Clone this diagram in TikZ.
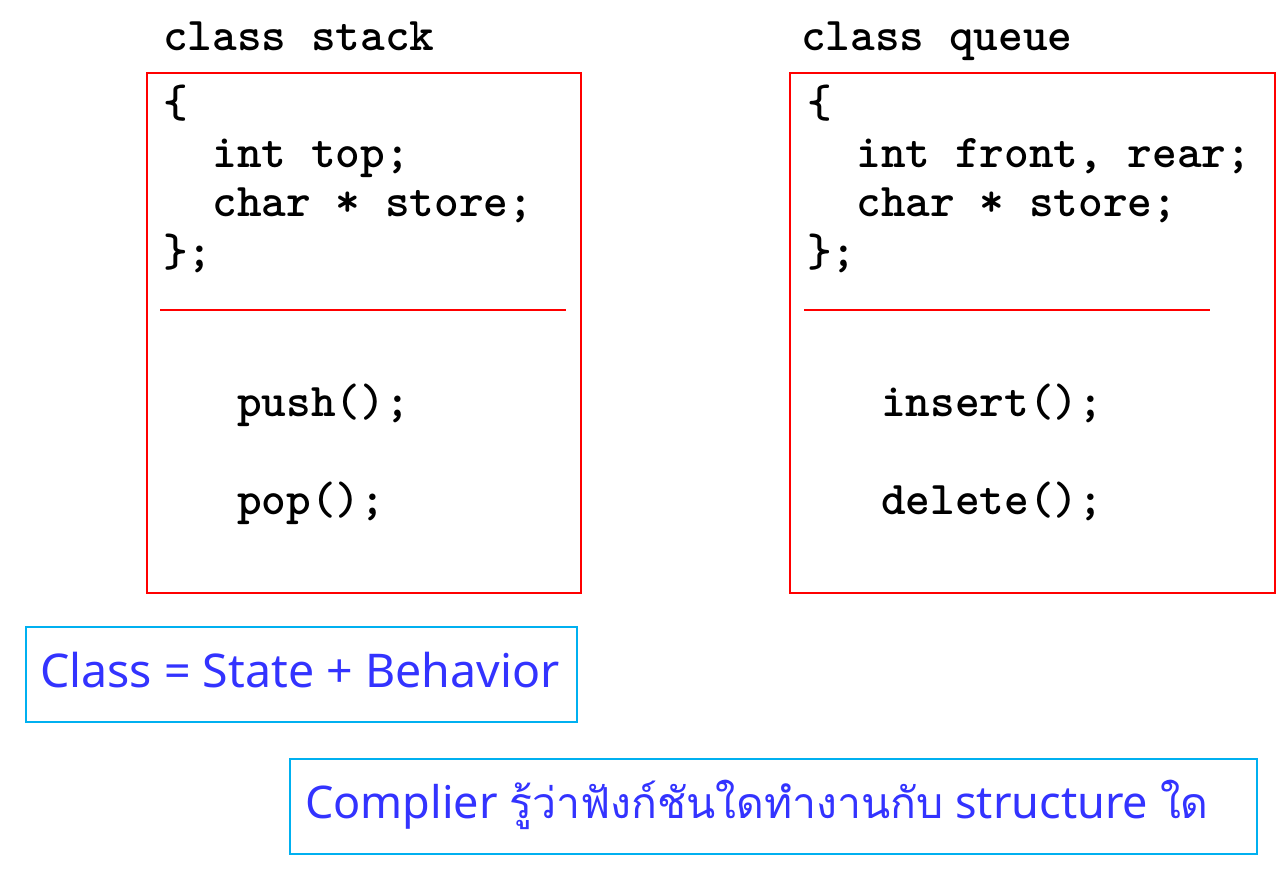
\documentclass[tikz,border=0pt]{standalone}
\usepackage{fontspec}
\newfontfamily\codefont{lmmonolt10-bold.otf}
\setsansfont{Noto Sans}
\newfontfamily\thaifont[Script=Thai,Scale=0.95]{Loma}
\definecolor{boxred}{RGB}{255,0,0}
\definecolor{boxcyan}{RGB}{0,176,240}
\definecolor{txtblue}{RGB}{51,51,255}
\tikzset{
  codebox/.style={draw=boxred, line width=2.5pt},
  sep/.style={draw=boxred, line width=2.5pt},
  code/.style={anchor=base west, inner sep=0pt, font=\codefont\fontsize{47}{47}\selectfont},
  notebox/.style={draw=boxcyan, line width=1.8pt},
  note/.style={anchor=base west, inner sep=0pt, text=txtblue, font=\sffamily\fontsize{46.5}{46.5}\selectfont},
}
\begin{document}
\begin{tikzpicture}[x=1pt,y=-1pt]
\useasboundingbox (0,0) rectangle (1281,887);
% stack
\node[code] (st) at (163,50) {class stack};
\draw[codebox] (147,73) rectangle (581,593);
\node[code] (s1) at (163,117) {\{};
\node[code] (s2) at (163,167) {\ \ int top;};
\node[code] (s3) at (163,216) {\ \ char * store;};
\node[code] (s4) at (163,266) {\};};
\draw[sep] (160,310) -- (566,310);
\node[code] (s5) at (163,416) {\ \ \ push();};
\node[code] (s6) at (163,514) {\ \ \ pop();};
% queue
\node[code] (qt) at (801,50) {class queue};
\draw[codebox] (790,73) rectangle (1275,593);
\node[code] (q1) at (807,117) {\{};
\node[code] (q2) at (807,167) {\ \ int front, rear;};
\node[code] (q3) at (807,216) {\ \ char * store;};
\node[code] (q4) at (807,266) {\};};
\draw[sep] (804,310) -- (1210,310);
\node[code] (q5) at (807,416) {\ \ \ insert();};
\node[code] (q6) at (807,514) {\ \ \ delete();};
% notes
\draw[notebox] (26,627) rectangle (577,722);
\node[note] (n1) at (40,687) {Class = State + Behavior};
\draw[notebox] (290,759) rectangle (1257,854);
\node[note, font=\sffamily\fontsize{45}{45}\selectfont] (n2) at (305,818) {Complier {\thaifont รู้ว่าฟังก์ชันใดทำงานกับ} structure {\thaifont ใด}};
\end{tikzpicture}
\end{document}
